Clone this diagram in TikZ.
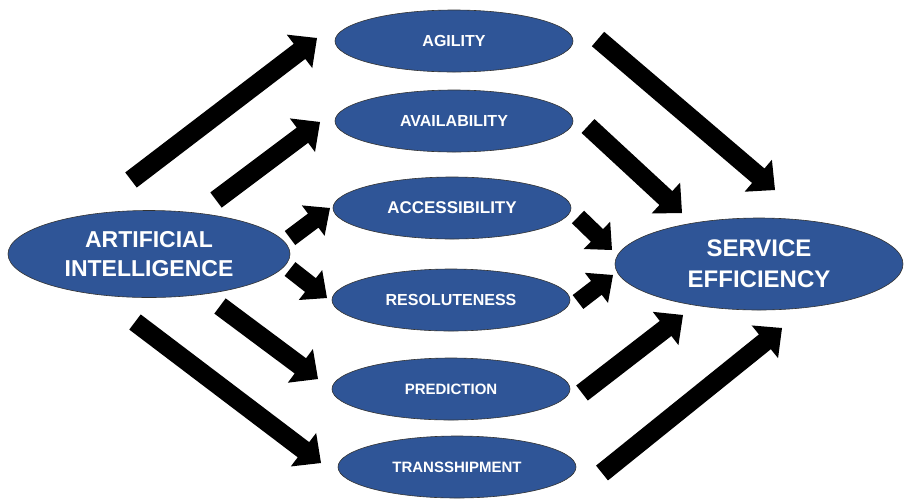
\documentclass[tikz,border=0pt]{standalone}
\usepackage{fontspec}
\setmainfont{Liberation Sans}
\usepackage{tikz}
\usetikzlibrary{shapes.geometric,calc}

\definecolor{aiblue}{HTML}{2F5597}

% block arrow: tail, tip, half shaft, half head, head length
\newcommand{\blockarrow}[5]{%
	\coordinate (b) at ($(#2)!#5!(#1)$);
	\fill ($(#1)!#3!90:(#2)$) -- ($(b)!#3!-90:(#1)$) -- ($(b)!#4!-90:(#1)$) -- (#2)
		-- ($(b)!#4!90:(#1)$) -- ($(b)!#3!90:(#1)$) -- ($(#1)!#3!-90:(#2)$) -- cycle;
}

\begin{document}
\begin{tikzpicture}[x=1pt,y=-1pt,
		bubble/.style={ellipse, fill=aiblue, draw=black!80, line width=0.6pt, text=white,
			font=\bfseries\fontsize{16}{18}\selectfont, minimum width=238pt, minimum height=62pt, inner sep=0pt},
		big/.style={bubble, align=center, minimum width=282pt, minimum height=87pt,
			font=\bfseries\fontsize{23}{29}\selectfont}]
	\useasboundingbox (0,0) rectangle (904,499);
	
	\node[big] (ai) at (149,254) {ARTIFICIAL\\INTELLIGENCE};
	\node[big, minimum width=288pt, minimum height=92pt, font=\bfseries\fontsize{24}{31}\selectfont] (se) at (759,264) {SERVICE\\EFFICIENCY};
	
	\node[bubble] (agility) at (454,41) {AGILITY};
	\node[bubble] (availability) at (454,121) {AVAILABILITY};
	\node[bubble, font=\bfseries\fontsize{17}{19}\selectfont] (accessibility) at (452,208) {ACCESSIBILITY};
	\node[bubble] (resoluteness) at (451,300) {RESOLUTENESS};
	\node[bubble, font=\bfseries\fontsize{15}{17}\selectfont] (prediction) at (451,389) {PREDICTION};
	\node[bubble, font=\bfseries\fontsize{15}{17}\selectfont] (transshipment) at (457,467) {TRANSSHIPMENT};
	
	% arrow ends
	\coordinate (s1) at (131,180);  \coordinate (e1) at (317,38);
	\coordinate (s2) at (216,200);  \coordinate (e2) at (320,122);
	\coordinate (s3) at (290,238);  \coordinate (e3) at (330,208);
	\coordinate (s4) at (290,269);  \coordinate (e4) at (327,298);
	\coordinate (s5) at (220,306);  \coordinate (e5) at (318,379);
	\coordinate (s6) at (135,322);  \coordinate (e6) at (321,463);
	\coordinate (s7) at (598,39);   \coordinate (e7) at (775,190);
	\coordinate (s8) at (588,126);  \coordinate (e8) at (682,213);
	\coordinate (s9) at (578,217);  \coordinate (e9) at (612,250);
	\coordinate (s10) at (578,302); \coordinate (e10) at (613,275);
	\coordinate (s11) at (582,393); \coordinate (e11) at (683,315);
	\coordinate (s12) at (602,473); \coordinate (e12) at (782,328);
	
	\foreach \s/\e in {s1/e1,s2/e2,s5/e5,s6/e6,s7/e7,s8/e8,s11/e11,s12/e12}
		\blockarrow{\s}{\e}{9.5pt}{21pt}{22pt};
	\foreach \s/\e in {s3/e3,s4/e4,s9/e9,s10/e10}
		\blockarrow{\s}{\e}{8.75pt}{19pt}{21pt};
\end{tikzpicture}
\end{document}
